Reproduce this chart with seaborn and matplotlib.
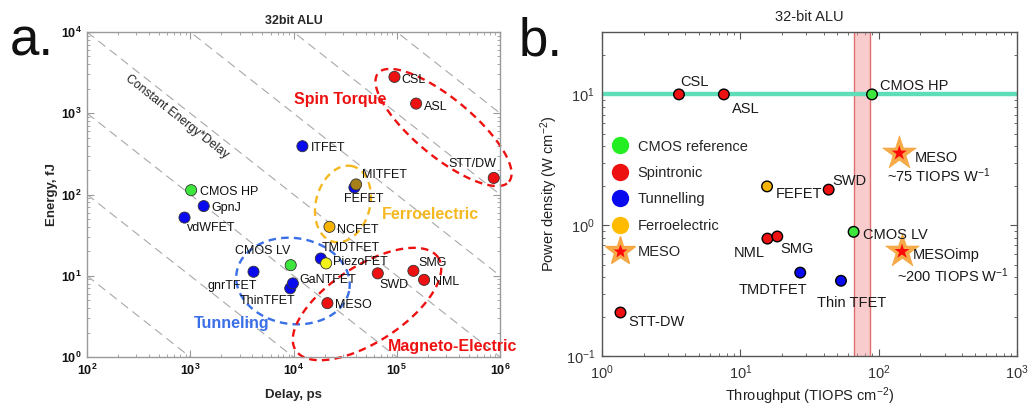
import numpy as np
import pandas as pd
import matplotlib
matplotlib.use("Agg")
import matplotlib.pyplot as plt
import seaborn as sns
from matplotlib.lines import Line2D
from matplotlib.legend_handler import HandlerTuple
from matplotlib.ticker import LogLocator, FuncFormatter, NullFormatter

# ---------------- panel a: energy vs delay of a 32bit ALU ----------------
a_devices = ["CSL", "ASL", "STT/DW", "ITFET", "FEFET", "MITFET", "CMOS HP", "GpnJ",
             "vdWFET", "NCFET", "TMDTFET", "PiezoFET", "CMOS LV", "gnrTFET",
             "ThinTFET", "GaNTFET", "SWD", "SMG", "NML", "MESO"]
a_delay_ps = [9.5e4, 1.54e5, 8.7e5, 1.22e4, 3.89e4, 4.04e4, 1.02e3, 1.35e3,
              880, 2.23e4, 1.84e4, 2.07e4, 9.4e3, 4.1e3,
              9.3e3, 9.86e3, 6.55e4, 1.45e5, 1.84e5, 2.13e4]
a_energy_fj = [2800, 1315, 160, 393, 122, 133, 113, 72,
               52, 40, 16.3, 14.2, 13.5, 11.2,
               7.0, 8.05, 10.7, 11.5, 8.9, 4.6]
a_family = ["spin", "spin", "spin", "tunnel", "tunnel", "mit", "cmos", "tunnel",
            "tunnel", "ferro", "tunnel", "piezo", "cmos", "tunnel",
            "tunnel", "tunnel", "spin", "spin", "spin", "spin"]
energy_delay_products = [1e2, 1e3, 1e4, 1e5, 1e6, 1e7, 1e8, 1e9, 1e10]

# ---------------- panel b: power density vs throughput ----------------
b_devices = ["CSL", "ASL", "CMOS HP", "FEFET", "SWD", "CMOS LV", "NML", "SMG",
             "TMDTFET", "Thin TFET", "STT-DW"]
b_throughput = [3.6, 7.6, 89.5, 15.6, 43.5, 65.9, 15.7, 18.5, 27.1, 53.4, 1.36]
b_power = [10, 10, 10, 1.98, 1.87, 0.89, 0.79, 0.82, 0.434, 0.376, 0.215]
b_family = ["Spintronic", "Spintronic", "CMOS reference", "Ferroelectric", "Spintronic",
            "CMOS reference", "Spintronic", "Spintronic", "Tunnelling", "Tunnelling",
            "Spintronic"]
meso_names = ["MESO", "MESOimp"]
meso_throughput = [141, 147.5]
meso_power = [3.56, 0.63]
meso_efficiency = ["~75 TIOPS W$^{-1}$", "~200 TIOPS W$^{-1}$"]
cmos_hp_power = 10
target_band = [66, 86]
legend_labels = ["CMOS reference", "Spintronic", "Tunnelling", "Ferroelectric", "MESO"]

# ---------------- styling ----------------
sns.set_theme(style="ticks")
plt.rcParams["font.family"] = ["Liberation Sans", "DejaVu Sans"]
plt.rcParams["mathtext.fontset"] = "custom"
plt.rcParams["mathtext.rm"] = "Liberation Sans"
plt.rcParams["mathtext.sf"] = "Liberation Sans"
plt.rcParams["mathtext.it"] = "Liberation Sans:italic"
plt.rcParams["mathtext.bf"] = "Liberation Sans:bold"

RED, BLUE, GREEN, ORANGE = "#ee1111", "#0a0aee", "#3de63d", "#f5b400"
a_colors = {"spin": RED, "tunnel": BLUE, "cmos": GREEN, "ferro": ORANGE,
            "mit": "#a8801a", "piezo": "#f2f21a"}
b_colors = {"CMOS reference": GREEN, "Spintronic": RED, "Tunnelling": BLUE,
            "Ferroelectric": ORANGE}

fig = plt.figure(figsize=(10.33, 4.08), dpi=100)
axA = fig.add_axes([87 / 1033, 51 / 408, 413 / 1033, 325 / 408])
axB = fig.add_axes([602 / 1033, 52 / 408, 415 / 1033, 324 / 408])


def style_log_axes(ax, spine_color, label_fmt):
    ax.set_xscale("log")
    ax.set_yscale("log")
    for sp in ax.spines.values():
        sp.set_color(spine_color)
        sp.set_linewidth(1.0)
    for axis in (ax.xaxis, ax.yaxis):
        axis.set_major_locator(LogLocator(base=10, numticks=12))
        axis.set_minor_locator(LogLocator(base=10, subs=np.arange(2, 10), numticks=12))
        axis.set_major_formatter(FuncFormatter(lambda v, p: label_fmt % round(np.log10(v))))
        axis.set_minor_formatter(NullFormatter())
    ax.tick_params(which="both", direction="in", top=True, right=True, color=spine_color)
    ax.tick_params(which="major", length=5, width=0.8)
    ax.tick_params(which="minor", length=2.5, width=0.6)


def ellipse_path(cx, cy, a_px, b_px, angle_deg, ppd_x, ppd_y, n=240):
    """Ellipse outline (sized in pixels) mapped back to log-log data space."""
    t = np.linspace(0, 2 * np.pi, n)
    th = np.deg2rad(angle_deg)
    ux = a_px * np.cos(t) * np.cos(th) - b_px * np.sin(t) * np.sin(th)
    uy = a_px * np.cos(t) * np.sin(th) + b_px * np.sin(t) * np.cos(th)
    return 10 ** (np.log10(cx) + ux / ppd_x), 10 ** (np.log10(cy) + uy / ppd_y)


# ================= panel a =================
axA.set_xlim(1e2, 1e6)
axA.set_ylim(1e0, 1e4)
style_log_axes(axA, "#9a9a9a", r"$\mathbf{10^{%d}}$")
axA.tick_params(labelsize=9, labelcolor="#111111", pad=4)

xs = np.logspace(2, 6, 60)
for ed in energy_delay_products:
    axA.plot(xs, ed / xs, color="#a8a8a8", lw=0.8, dashes=(8, 5), zorder=1)

axA.text(745, 900, "Constant Energy*Delay", rotation=-38.2, rotation_mode="anchor",
         ha="center", va="center", fontsize=8.8, color="#222222")

ppd_x, ppd_y = 413 / 4, 325 / 4
for (cx, cy, ea, eb, ang, col) in [
        (10 ** 5.453, 10 ** 2.825, 85, 29, -39.6, RED),
        (10 ** 4.479, 10 ** 1.883, 39, 27, 75, "#f5b820"),
        (10 ** 3.995, 10 ** 0.935, 57, 43, -8, "#3a6fe8"),
        (10 ** 4.712, 10 ** 0.652, 85, 38, 33, RED)]:
    ex, ey = ellipse_path(cx, cy, ea, eb, ang, ppd_x, ppd_y)
    axA.plot(ex, ey, color=col, lw=1.7, dashes=(3.2, 2.2), zorder=2, clip_on=False)

dfa = pd.DataFrame({"device": a_devices, "delay": a_delay_ps,
                    "energy": a_energy_fj, "family": a_family})
sns.scatterplot(data=dfa, x="delay", y="energy", hue="device",
                palette={d: a_colors[f] for d, f in zip(a_devices, a_family)},
                s=64, edgecolor="#333333", linewidth=0.6, legend=False, ax=axA, zorder=4)

# label placement: (dx px, dy px, ha)
a_label_pos = {
    "CSL": (7, -3, "left"), "ASL": (8, -3, "left"), "STT/DW": (3, 14, "right"),
    "ITFET": (8, -2, "left"), "FEFET": (9, -12, "center"), "MITFET": (6, 9, "left"),
    "CMOS HP": (9, -2, "left"), "GpnJ": (8, -2, "left"), "vdWFET": (2, -10, "left"),
    "NCFET": (8, -3, "left"), "TMDTFET": (1, 11, "left"), "PiezoFET": (7, 1, "left"),
    "CMOS LV": (0, 14, "right"), "gnrTFET": (3, -14, "right"), "ThinTFET": (5, -13, "right"),
    "GaNTFET": (7, 3, "left"), "SWD": (2, -12, "left"), "SMG": (5, 8, "left"),
    "NML": (9, -2, "left"), "MESO": (8, -2, "left"),
}
for d, x, y in zip(a_devices, a_delay_ps, a_energy_fj):
    dx, dy, ha = a_label_pos[d]
    axA.annotate(d, (x, y), xytext=(dx, dy), textcoords="offset pixels",
                 ha=ha, va="center", fontsize=9, color="#111111", zorder=5)

for txt, x, y, col in [("Spin Torque", 2.82e4, 1456, RED),
                       ("Ferroelectric", 2.1e5, 56, "#f5b820"),
                       ("Tunneling", 2.54e3, 2.62, "#3a6fe8"),
                       ("Magneto-Electric", 3.51e5, 1.33, RED)]:
    axA.text(x, y, txt, color=col, fontsize=11.5, fontweight="bold",
             ha="center", va="center", clip_on=False, zorder=5)

axA.set_title("32bit ALU", fontsize=9, fontweight="bold", pad=6)
axA.set_xlabel("Delay, ps", fontsize=9.5, fontweight="bold", labelpad=8)
axA.set_ylabel("Energy, fJ", fontsize=9.5, fontweight="bold", labelpad=2)

# ================= panel b =================
axB.set_xlim(1e0, 1e3)
axB.set_ylim(1e-1, 30)
style_log_axes(axB, "#555555", r"$\mathdefault{10^{%d}}$")
axB.tick_params(labelsize=10.5, labelcolor="#333333", pad=5)

axB.axvspan(target_band[0], target_band[1], facecolor="#f39a9a", alpha=0.5,
            edgecolor="none", zorder=1)
for xv in target_band:
    axB.axvline(xv, color="#e07070", lw=1.0, zorder=1)
axB.axhline(cmos_hp_power, color="#5fdcb8", lw=3.2, zorder=2)

dfb = pd.DataFrame({"device": b_devices, "throughput": b_throughput,
                    "power": b_power, "family": b_family})
sns.scatterplot(data=dfb, x="throughput", y="power", hue="family", palette=b_colors,
                s=58, edgecolor="black", linewidth=1.0, legend=False, ax=axB, zorder=4)

dfm = pd.DataFrame({"device": meso_names, "throughput": meso_throughput, "power": meso_power})
sns.scatterplot(data=dfm, x="throughput", y="power", marker="*", s=650,
                color="#f5a236", edgecolor="#f5a236", linewidth=0.5, alpha=0.9,
                legend=False, ax=axB, zorder=4)
sns.scatterplot(data=dfm, x="throughput", y="power", marker="*", s=130,
                color="#ff0a0a", edgecolor="none", legend=False, ax=axB, zorder=5)

b_label_pos = {
    "CSL": (1, 12, "left"), "ASL": (8, -15, "left"), "CMOS HP": (8, 8, "left"),
    "FEFET": (9, -8, "left"), "SWD": (4, 9, "left"), "CMOS LV": (9, -3, "left"),
    "NML": (-3, -14, "right"), "SMG": (3, -13, "left"), "TMDTFET": (7, -17, "right"),
    "Thin TFET": (11, -22, "center"), "STT-DW": (8, -9, "left"),
}
for d, x, y in zip(b_devices, b_throughput, b_power):
    dx, dy, ha = b_label_pos[d]
    axB.annotate(d, (x, y), xytext=(dx, dy), textcoords="offset pixels",
                 ha=ha, va="center", fontsize=10.5, color="#1a1a1a", zorder=6)

meso_label_pos = {"MESO": ((15, -5), (-12, -23)), "MESOimp": ((11, -4), (-5, -24))}
for d, x, y, eff in zip(meso_names, meso_throughput, meso_power, meso_efficiency):
    (dx1, dy1), (dx2, dy2) = meso_label_pos[d]
    axB.annotate(d, (x, y), xytext=(dx1, dy1), textcoords="offset pixels",
                 ha="left", va="center", fontsize=10.5, color="#1a1a1a", zorder=6)
    axB.annotate(eff, (x, y), xytext=(dx2, dy2), textcoords="offset pixels",
                 ha="left", va="center", fontsize=10.5, color="#1a1a1a", zorder=6)

leg_colors = ["#22ee22", "#ee1111", "#0a0aee", "#ffbb00"]
handles = [Line2D([], [], ls="", marker="o", markersize=12.5, markerfacecolor=c,
                  markeredgecolor="none") for c in leg_colors]
handles.append((Line2D([], [], ls="", marker="*", markersize=22, markerfacecolor="#f5a236",
                       markeredgecolor="#f5a236", alpha=0.9),
                Line2D([], [], ls="", marker="*", markersize=10, markerfacecolor="#ff0a0a",
                       markeredgecolor="none")))
axB.legend(handles, legend_labels, handler_map={tuple: HandlerTuple(ndivide=1)},
           loc="upper left", bbox_to_anchor=(0.023, 0.668), frameon=False, fontsize=10.5,
           handlelength=1.2, handletextpad=0.6, labelspacing=0.85, borderpad=0,
           borderaxespad=0)

axB.set_title("32-bit ALU", fontsize=10.5, pad=8, color="#222222")
axB.set_xlabel("Throughput (TIOPS cm$^{-2}$)", fontsize=10.5, color="#222222", labelpad=3)
axB.set_ylabel("Power density (W cm$^{-2}$)", fontsize=10.5, color="#222222", labelpad=4)

# panel letters
fig.text(10 / 1033, 1 - 55 / 408, "a.", fontsize=38, va="baseline", ha="left", color="#111111")
fig.text(519 / 1033, 1 - 55 / 408, "b.", fontsize=38, va="baseline", ha="left", color="#111111")

fig.savefig("out.png", dpi=100)
